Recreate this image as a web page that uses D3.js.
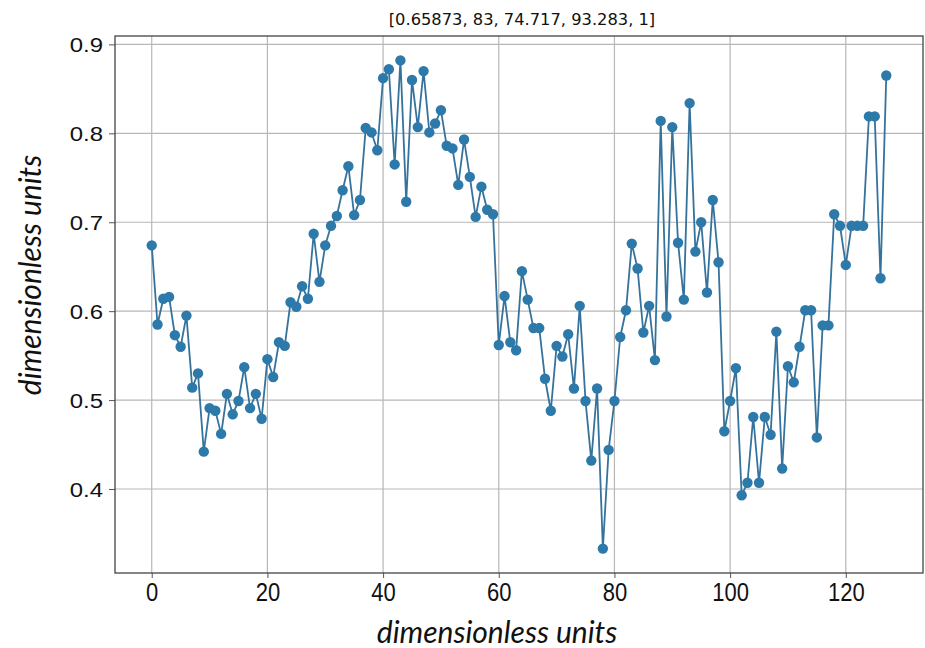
<!DOCTYPE html>
<html>
<head>
<meta charset="utf-8">
<script src="https://cdn.jsdelivr.net/npm/d3@7"></script>
<style>
  html, body { margin: 0; padding: 0; background: #fff; }
  svg { display: block; }
</style>
</head>
<body>
<svg id="chart" width="925" height="648"></svg>
<script>
// Series values, one per sample index 0..127
const values = [
  0.674, 0.585, 0.614, 0.616, 0.573, 0.560, 0.595, 0.514, 0.530, 0.442,
  0.491, 0.488, 0.462, 0.507, 0.484, 0.499, 0.537, 0.491, 0.507, 0.479,
  0.546, 0.526, 0.565, 0.561, 0.610, 0.605, 0.628, 0.614, 0.687, 0.633,
  0.674, 0.696, 0.707, 0.736, 0.763, 0.708, 0.725, 0.806, 0.801, 0.781,
  0.862, 0.872, 0.765, 0.882, 0.723, 0.860, 0.807, 0.870, 0.801, 0.811,
  0.826, 0.786, 0.783, 0.742, 0.793, 0.751, 0.706, 0.740, 0.714, 0.709,
  0.562, 0.617, 0.565, 0.556, 0.645, 0.613, 0.581, 0.581, 0.524, 0.488,
  0.561, 0.549, 0.574, 0.513, 0.606, 0.499, 0.432, 0.513, 0.333, 0.444,
  0.499, 0.571, 0.601, 0.676, 0.648, 0.576, 0.606, 0.545, 0.814, 0.594,
  0.807, 0.677, 0.613, 0.834, 0.667, 0.700, 0.621, 0.725, 0.655, 0.465,
  0.499, 0.536, 0.393, 0.407, 0.481, 0.407, 0.481, 0.461, 0.577, 0.423,
  0.538, 0.520, 0.560, 0.601, 0.601, 0.458, 0.584, 0.584, 0.709, 0.696,
  0.652, 0.696, 0.696, 0.696, 0.819, 0.819, 0.637, 0.865
];
const xTicks = [0, 20, 40, 60, 80, 100, 120];
const yTicks = [0.4, 0.5, 0.6, 0.7, 0.8, 0.9];
const titleText = "[0.65873, 83, 74.717, 93.283, 1]";
const xLabel = "dimensionless units";
const yLabel = "dimensionless units";

(function draw() {
  const svg = d3.select("#chart");
  const plotLeft = 115, plotRight = 923, plotTop = 36, plotBottom = 573;

  // Axis limits padded by 5% of the data range on each side
  const xMin = 0, xMax = values.length - 1;
  const xPad = (xMax - xMin) * 0.05;
  const yLo = d3.min(values), yHi = d3.max(values);
  const yPad = (yHi - yLo) * 0.05;

  const x = d3.scaleLinear().domain([xMin - xPad, xMax + xPad]).range([plotLeft, plotRight]);
  const y = d3.scaleLinear().domain([yLo - yPad, yHi + yPad]).range([plotBottom, plotTop]);

  // Grid
  const grid = svg.append("g").attr("stroke", "#b7b7b7").attr("stroke-width", 1.2);
  grid.selectAll("line.gx").data(xTicks).join("line")
    .attr("class", "gx")
    .attr("x1", d => x(d)).attr("x2", d => x(d))
    .attr("y1", plotTop).attr("y2", plotBottom);
  grid.selectAll("line.gy").data(yTicks).join("line")
    .attr("class", "gy")
    .attr("x1", plotLeft).attr("x2", plotRight)
    .attr("y1", d => y(d)).attr("y2", d => y(d));

  // Axes
  const tickFont = "'Liberation Sans', Arial, sans-serif";
  const xAxis = svg.append("g").attr("transform", `translate(0,${plotBottom})`)
    .call(d3.axisBottom(x).tickValues(xTicks).tickSize(5).tickPadding(8).tickFormat(d3.format("d")));
  const yAxis = svg.append("g").attr("transform", `translate(${plotLeft},0)`)
    .call(d3.axisLeft(y).tickValues(yTicks).tickSize(6).tickPadding(6).tickFormat(d3.format(".1f")));
  [xAxis, yAxis].forEach(a => {
    a.select(".domain").remove();
    a.selectAll(".tick line").attr("stroke", "#555");
  });
  // x tick labels: tall digits, centred under each tick
  xAxis.selectAll(".tick text")
    .attr("y", null).attr("dy", null)
    .attr("transform", "translate(0,28) scale(1,1.16)")
    .attr("fill", "#111")
    .style("font-family", tickFont)
    .style("font-size", "22px");
  // y tick labels: wide digits, right-aligned beside each tick
  yAxis.selectAll(".tick text")
    .attr("x", null).attr("dy", null)
    .attr("transform", "translate(-12,7.5) scale(1.14,1)")
    .attr("fill", "#111")
    .style("font-family", tickFont)
    .style("font-size", "21px");

  // Frame
  svg.append("rect")
    .attr("x", plotLeft).attr("y", plotTop)
    .attr("width", plotRight - plotLeft).attr("height", plotBottom - plotTop)
    .attr("fill", "none").attr("stroke", "#444").attr("stroke-width", 1.3);

  // Series line and markers
  const line = d3.line().x((d, i) => x(i)).y(d => y(d));
  svg.append("path").datum(values)
    .attr("d", line)
    .attr("fill", "none")
    .attr("stroke", "#35739c")
    .attr("stroke-width", 1.8);
  svg.append("g").selectAll("circle").data(values).join("circle")
    .attr("cx", (d, i) => x(i))
    .attr("cy", d => y(d))
    .attr("r", 5.2)
    .attr("fill", "#2c79aa");

  // Title and axis labels
  svg.append("text")
    .attr("x", 522).attr("y", 25)
    .attr("text-anchor", "middle")
    .style("font-family", "'DejaVu Sans', sans-serif")
    .style("font-size", "16.3px")
    .attr("fill", "#111")
    .text(titleText);

  svg.append("text")
    .attr("x", 497).attr("y", 643)
    .attr("text-anchor", "middle")
    .style("font-family", "Lato, 'Open Sans', sans-serif")
    .style("font-style", "italic")
    .style("font-size", "30px")
    .attr("fill", "#111")
    .text(xLabel);

  svg.append("text")
    .attr("transform", "translate(41,275) rotate(-90)")
    .attr("text-anchor", "middle")
    .style("font-family", "Lato, 'Open Sans', sans-serif")
    .style("font-style", "italic")
    .style("font-size", "30px")
    .attr("fill", "#111")
    .text(yLabel);
})();
</script>
</body>
</html>
